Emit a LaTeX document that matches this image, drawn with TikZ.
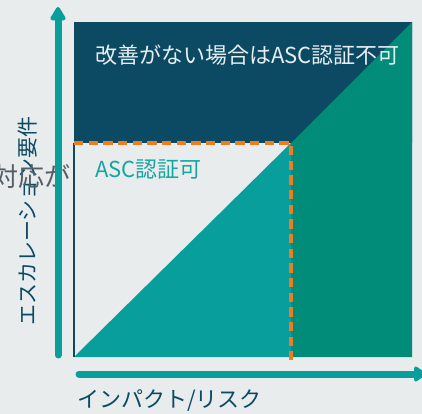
\documentclass[tikz,border=0pt]{standalone}
\usepackage{fontspec}
\newfontfamily\jp{Noto Sans CJK JP}
\usetikzlibrary{arrows.meta}
\definecolor{bgc}{HTML}{E8ECED}
\definecolor{navy}{HTML}{0C4A64}
\definecolor{tealA}{HTML}{089E9C}
\definecolor{tealB}{HTML}{008C78}
\definecolor{orng}{HTML}{F07C22}
\definecolor{titlec}{HTML}{E6EEF0}
\definecolor{asc}{HTML}{17A5A3}
\definecolor{grayt}{HTML}{545E66}
\begin{document}
\begin{tikzpicture}[x=0.75pt,y=-0.75pt,
  axis/.style={draw=tealA,line width=5.25pt,line cap=round},
  lbl/.style={inner sep=0pt,font=\jp},
  dashline/.style={draw=orng,line width=2.6pt,dash pattern=on 7pt off 4pt}]
\fill[bgc] (0,0) rectangle (422,414);
\useasboundingbox (0,0) rectangle (422,414);
% coordinates
\coordinate (bl) at (74,357);
\coordinate (tr) at (412,22);
\coordinate (tl) at (74,22);
\coordinate (br) at (412,357);
\coordinate (ml) at (74,143);
\coordinate (c) at (291,143);
\coordinate (cb) at (291,357);
\coordinate (cbd) at (291,360);
\coordinate (mr) at (412,143);
% regions
\fill[navy] (tl) -- (tr) -- (mr) -- (ml) -- cycle;
\fill[navy] (c) -- (mr) -- (tr) -- cycle;
\fill[tealB] (c) -- (tr) -- (br) -- (cb) -- cycle;
\fill[tealA] (bl) -- (c) -- (cb) -- cycle;
\draw[navy,line width=1.1pt] (ml) -- (bl);
\draw[dashline] (ml) -- (c) -- (cbd);
% texts
\node[lbl,text=titlec,font=\jp\fontsize{16.5pt}{19pt}\selectfont,anchor=west] (t1) at (95,55) {改善がない場合はASC認証不可};
\node[lbl,text=asc,font=\jp\fontsize{16.5pt}{19pt}\selectfont,anchor=west] (t2) at (95,170) {ASC認証可};
\node[lbl,text=navy,font=\jp\fontsize{15.75pt}{18pt}\selectfont,rotate=90] (yl) at (28,221) {エスカレーション要件};
\node[lbl,text=grayt,font=\jp\fontsize{19.5pt}{22pt}\selectfont,anchor=east] (t3) at (71,177) {対応が};
\node[lbl,text=navy,font=\jp\fontsize{16.5pt}{19pt}\selectfont,anchor=west] (xl) at (77,401) {インパクト/リスク};
% axes
\coordinate (y0) at (58,355);
\coordinate (y1) at (58,7);
\coordinate (x0) at (79,374);
\coordinate (x1) at (426,374);
\draw[axis,-{Triangle[length=11.5pt,width=12.75pt,round]}] (y0) -- (y1);
\draw[axis,-{Triangle[length=10pt,width=12.75pt,round]}] (x0) -- (x1);
\end{tikzpicture}
\end{document}
